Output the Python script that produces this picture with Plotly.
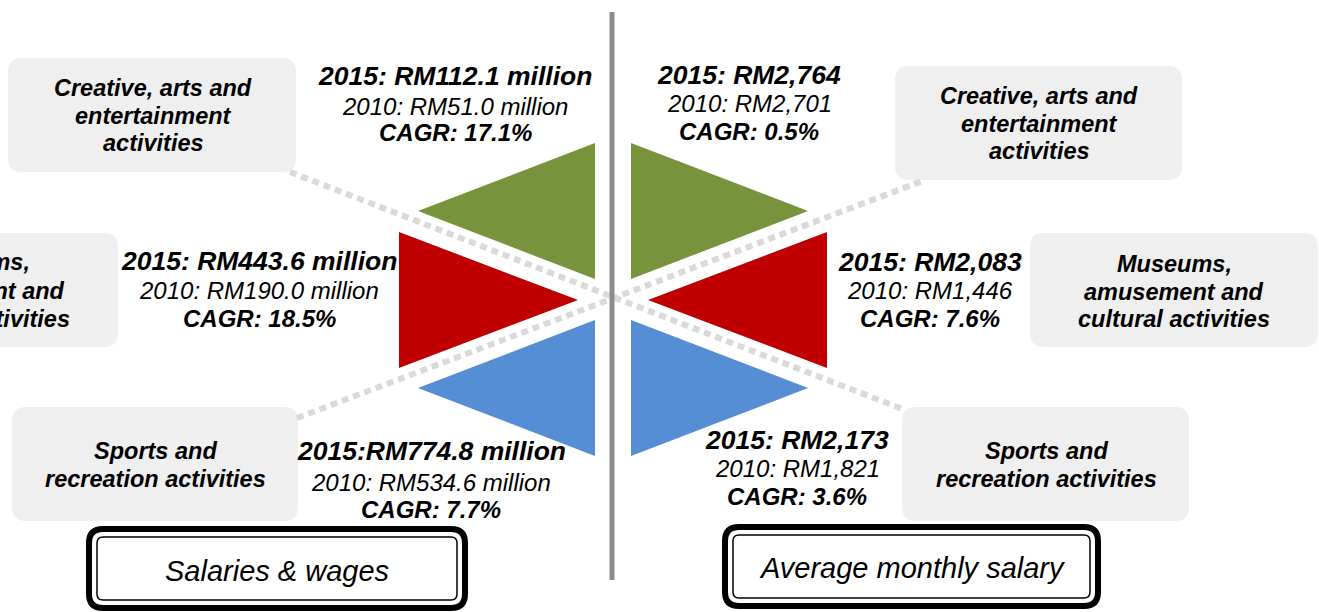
import plotly.graph_objects as go

# sector labels (box text, one entry per line)
sectors = [["Creative, arts and", "entertainment", "activities"],
           ["Museums,", "amusement and", "cultural activities"],
           ["Sports and", "recreation activities"]]

# Salaries & wages (left panel)
sal_2015 = ["2015: RM112.1 million", "2015: RM443.6 million", "2015:RM774.8 million"]
sal_2010 = ["2010: RM51.0 million", "2010: RM190.0 million", "2010: RM534.6 million"]
sal_cagr = ["CAGR: 17.1%", "CAGR: 18.5%", "CAGR: 7.7%"]

# Average monthly salary (right panel)
avg_2015 = ["2015: RM2,764", "2015: RM2,083", "2015: RM2,173"]
avg_2010 = ["2010: RM2,701", "2010: RM1,446", "2010: RM1,821"]
avg_cagr = ["CAGR: 0.5%", "CAGR: 7.6%", "CAGR: 3.6%"]

panel_titles = ["Salaries & wages", "Average monthly salary"]
colors = ["#77933C", "#C00000", "#558ED5"]

W, H = 1319, 612
FONT = "Liberation Sans, Arial, sans-serif"
CX, CY = 612, 298  # centre of the hexagon


def rrect(x0, y0, x1, y1, r):
    return (f"M {x0+r},{y0} L {x1-r},{y0} Q {x1},{y0} {x1},{y0+r} "
            f"L {x1},{y1-r} Q {x1},{y1} {x1-r},{y1} L {x0+r},{y1} "
            f"Q {x0},{y1} {x0},{y1-r} L {x0},{y0+r} Q {x0},{y0} {x0+r},{y0} Z")


fig = go.Figure()

# triangles: (vertical edge x, apex x) per row, row centre y
tri_rows = [211, 300, 388]
half_h = 68
left_geo = [(595, 418), (399, 578), (595, 418)]
right_geo = [(2 * CX - a + 2, 2 * CX - b + 2) for a, b in left_geo]
for geo in (left_geo, right_geo):
    for (ex, ax_), yc, col in zip(geo, tri_rows, colors):
        fig.add_trace(go.Scatter(x=[ex, ex, ax_, ex], y=[yc - half_h, yc + half_h, yc, yc - half_h],
                                 mode="lines", fill="toself", fillcolor=col,
                                 line=dict(width=0, color=col), hoverinfo="skip", showlegend=False))

shapes = []
# grey label boxes
boxes = [(8, 58, 296, 172), (-170, 233, 118, 347), (12, 407, 298, 521),
         (895, 66, 1182, 180), (1030, 233, 1318, 347), (902, 407, 1189, 521)]
for x0, y0, x1, y1 in boxes:
    shapes.append(dict(type="path", path=rrect(x0, y0, x1, y1, 14), fillcolor="#EFEFEF",
                       line=dict(width=0), layer="below"))

# dashed connectors
for (x0, y0, x1, y1) in [(290, 172, 905, 410), (297, 418, 925, 180)]:
    shapes.append(dict(type="line", x0=x0, y0=y0, x1=x1, y1=y1,
                       line=dict(color="#D9D9D9", width=6, dash="7px,5px"), layer="below"))

# vertical divider
shapes.append(dict(type="line", x0=CX, x1=CX, y0=12, y1=580, line=dict(color="#8C8C8C", width=5)))

# title boxes with double border
for (x0, y0, x1, y1) in [(89, 529, 465, 608), (725, 527, 1098, 606)]:
    shapes.append(dict(type="path", path=rrect(x0, y0, x1, y1, 14), fillcolor="white",
                       line=dict(color="black", width=6)))
    shapes.append(dict(type="path", path=rrect(x0 + 8, y0 + 8, x1 - 8, y1 - 8, 6),
                       line=dict(color="black", width=1.5)))

ann = []
# (x, first line y, line step, anchor)
box_text_pos = [(153, 88, 27.5, "center"), (None, 262, 28.5, "right"), (155, 451, 27.5, "center"),
                (1039, 96, 27.5, "center"), (1174, 264, 27.5, "center"), (1046, 451, 27.5, "center")]
cut_right = [32, 67, 72]  # right ends of the cut-off museum box lines
for k, (x, y, step, anc) in enumerate(box_text_pos):
    for j, line in enumerate(sectors[k % 3]):
        xx = cut_right[j] if x is None else x
        ann.append(dict(x=xx, y=y + j * step, text="<b><i>" + line + "</i></b>", showarrow=False,
                        xanchor=anc, font=dict(size=23.5, color="black", family=FONT)))

val_pos_left = [(455, 76, 30, 26), (259, 261, 29, 28), (431, 451, 31, 27)]
val_pos_right = [(749, 75, 28, 28), (930, 262, 28, 28), (797, 440, 28, 28)]
for pos, v15, v10, cg in [(val_pos_left, sal_2015, sal_2010, sal_cagr),
                         (val_pos_right, avg_2015, avg_2010, avg_cagr)]:
    for (x, y, s1, s2), a, b, c in zip(pos, v15, v10, cg):
        ann.append(dict(x=x, y=y, text="<b><i>" + a + "</i></b>", showarrow=False,
                        font=dict(size=26.5, color="black", family=FONT)))
        ann.append(dict(x=x, y=y + s1, text="<i>" + b + "</i>", showarrow=False,
                        font=dict(size=24, color="black", family=FONT)))
        ann.append(dict(x=x, y=y + s1 + s2, text="<b><i>" + c + "</i></b>", showarrow=False,
                        font=dict(size=24, color="black", family=FONT)))

for (x, y), t in zip([(277, 571), (912, 568)], panel_titles):
    ann.append(dict(x=x, y=y, text="<i>" + t + "</i>", showarrow=False,
                    font=dict(size=29, color="black", family=FONT)))

fig.update_layout(width=W, height=H, margin=dict(l=0, r=0, t=0, b=0),
                  paper_bgcolor="white", plot_bgcolor="white",
                  shapes=shapes, annotations=ann, showlegend=False,
                  xaxis=dict(range=[0, W], visible=False, fixedrange=True),
                  yaxis=dict(range=[H, 0], visible=False, fixedrange=True))
# drop the browser's default page margin so the figure sits at the top-left corner
fig.write_html("out.html", config={"displayModeBar": False},
               post_script="document.body.style.margin='0';document.body.style.overflow='hidden';")
